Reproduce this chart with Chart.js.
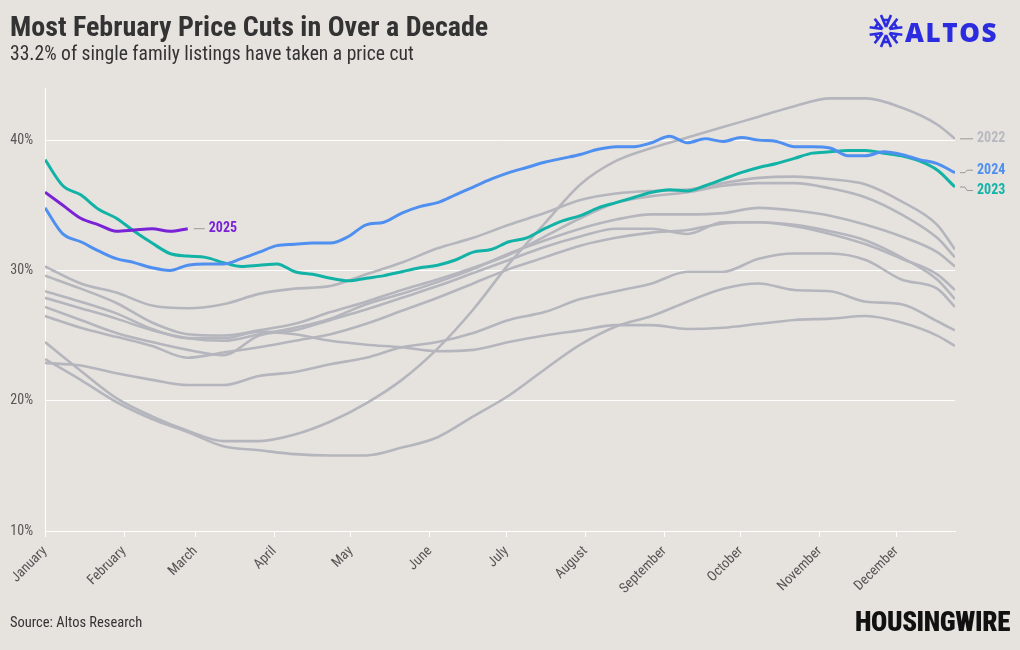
<!DOCTYPE html>
<html>
<head>
<meta charset="utf-8">
<script src="https://cdn.jsdelivr.net/npm/chart.js@4.4.1/dist/chart.umd.min.js"></script>
<style>
  html, body { margin: 0; padding: 0; background: #e6e3df; }
  #wrap { position: relative; width: 1020px; height: 650px; overflow: hidden; background: #e6e3df;
          font-family: 'Roboto Condensed', 'Liberation Sans Narrow', 'DejaVu Sans Condensed', Roboto, sans-serif; }
  #title { position: absolute; left: 10px; top: 10px; font-size: 28px; font-weight: bold; color: #333; white-space: nowrap; }
  #subtitle { position: absolute; left: 10px; top: 42px; font-size: 19.6px; color: #333; white-space: nowrap; }
  #source { position: absolute; left: 10px; top: 614px; font-size: 14.5px; color: #333; white-space: nowrap; }
  #hw { position: absolute; left: 855px; top: 606px; font-size: 27px; font-weight: 900; color: #111; letter-spacing: -0.4px; white-space: nowrap; }
  #altos { position: absolute; left: 868px; top: 13px; }
  #altosText { position: absolute; left: 905px; top: 14px; font-family: 'Open Sans', 'DejaVu Sans', sans-serif; font-size: 26px; font-weight: 800; color: #2b2be0; letter-spacing: 1.6px; }
  canvas { position: absolute; left: 0; top: 0; }
</style>
</head>
<body>
<div id="wrap">
  <canvas id="chart" width="1020" height="650"></canvas>
  <div id="title">Most February Price Cuts in Over a Decade</div>
  <div id="subtitle">33.2% of single family listings have taken a price cut</div>
  <div id="source">Source: Altos Research</div>
  <div id="hw">HOUSINGWIRE</div>
  <svg id="altos" width="36" height="36" viewBox="-18 -18 36 36">
    <g stroke="#2b2be0" stroke-width="2.6" fill="none" stroke-linejoin="round">
      <g transform="rotate(0)"><path d="M0,-4 L-5,-16 M0,-4 L5,-16 M-3,-11 L3,-11"/></g>
      <g transform="rotate(60)"><path d="M0,-4 L-5,-16 M0,-4 L5,-16 M-3,-11 L3,-11"/></g>
      <g transform="rotate(120)"><path d="M0,-4 L-5,-16 M0,-4 L5,-16 M-3,-11 L3,-11"/></g>
      <g transform="rotate(180)"><path d="M0,-4 L-5,-16 M0,-4 L5,-16 M-3,-11 L3,-11"/></g>
      <g transform="rotate(240)"><path d="M0,-4 L-5,-16 M0,-4 L5,-16 M-3,-11 L3,-11"/></g>
      <g transform="rotate(300)"><path d="M0,-4 L-5,-16 M0,-4 L5,-16 M-3,-11 L3,-11"/></g>
    </g>
  </svg>
  <div id="altosText">ALTOS</div>
</div>
<script>
// ---- Data (share of single family listings with a price cut, %) ----
// grey (earlier) years: sampled every two weeks plus the final week
const weeks = [0,2,4,6,8,10,12,14,16,18,20,22,24,26,28,30,32,34,36,38,40,42,44,46,48,50,51];
// highlighted years: weekly
const weeklyX = [0,1,2,3,4,5,6,7,8,9,10,11,12,13,14,15,16,17,18,19,20,21,22,23,24,25,26,27,28,29,30,31,32,33,34,35,36,37,38,39,40,41,42,43,44,45,46,47,48,49,50,51];

const monthNames = ['January','February','March','April','May','June','July','August','September','October','November','December'];
const monthStartDays = [0,31,59,90,120,151,181,212,243,273,304,334];
const yTickValues = [10,20,30,40];

const pastA = [30.3,29.0,28.3,27.3,27.1,27.4,28.2,28.6,28.8,29.7,30.6,31.7,32.5,33.5,34.4,35.4,35.9,36.1,36.2,36.7,37.1,37.2,37.0,36.6,35.3,33.5,31.6];
const pastB = [29.6,28.6,27.5,26.0,25.1,25.0,25.4,25.9,26.8,27.6,28.5,29.3,30.2,31.2,32.6,34.0,35.2,35.7,36.0,36.5,36.7,36.7,36.3,35.6,34.3,32.5,31.0];
const pastC = [28.4,27.6,26.7,25.5,24.8,24.8,25.3,25.1,24.6,24.3,24.1,23.8,23.9,24.5,25.0,25.4,25.8,25.8,25.5,25.6,25.9,26.2,26.3,26.5,26.0,25.0,24.2];
const pastD = [27.9,27.1,26.3,25.4,24.8,24.6,25.1,25.6,26.3,27.4,28.2,29.1,30.1,31.3,32.3,33.2,33.9,34.3,34.3,34.4,34.8,34.6,34.2,33.5,32.6,31.4,30.3];
const pastE = [27.2,26.2,25.2,24.5,23.9,23.5,25.0,25.4,26.2,27.0,27.9,28.8,29.8,30.8,31.8,32.6,33.2,33.2,32.8,33.7,33.7,33.4,32.8,32.0,30.9,29.7,28.5];
const pastF = [26.5,25.6,24.9,24.2,23.3,23.7,24.1,24.6,25.1,25.9,26.9,27.9,29.0,30.1,31.0,31.9,32.5,32.9,33.1,33.6,33.7,33.5,33.0,32.3,31.0,29.3,27.8];
const pastG = [22.9,22.7,22.1,21.6,21.2,21.2,21.9,22.2,22.8,23.3,24.1,24.5,25.2,26.2,26.8,27.8,28.4,29.0,29.9,29.9,30.9,31.3,31.3,30.8,29.3,28.6,27.2];
const pastH = [23.2,21.6,19.9,18.6,17.6,16.5,16.2,15.9,15.8,15.8,16.4,17.2,18.8,20.4,22.4,24.3,25.7,26.5,27.6,28.6,29.0,28.5,28.4,27.6,27.4,26.1,25.4];
const y2022 = [24.5,22.3,20.2,18.8,17.7,16.9,16.9,17.4,18.4,19.8,21.6,24.0,27.0,30.5,33.6,36.6,38.4,39.4,40.2,41.0,41.8,42.6,43.2,43.2,42.5,41.2,40.1];

const y2023 = [38.5,36.5,35.8,34.7,34.0,33.0,32.1,31.3,31.1,31.0,30.6,30.3,30.4,30.5,29.9,29.7,29.4,29.2,29.4,29.6,29.9,30.2,30.4,30.8,31.4,31.6,
               32.2,32.5,33.2,33.8,34.2,34.8,35.2,35.6,36.0,36.2,36.1,36.5,37.0,37.5,37.9,38.2,38.6,39.0,39.1,39.2,39.2,39.0,38.8,38.4,37.7,36.4];
const y2024 = [34.8,32.8,32.2,31.5,30.9,30.6,30.2,30.0,30.4,30.5,30.5,30.9,31.4,31.9,32.0,32.1,32.1,32.6,33.5,33.7,34.4,34.9,35.2,35.8,36.4,37.0,
               37.5,37.9,38.3,38.6,38.9,39.3,39.5,39.5,39.8,40.3,39.8,40.1,39.9,40.2,40.0,39.9,39.5,39.5,39.4,38.8,38.8,39.1,38.9,38.5,38.2,37.5];
const y2025 = [36.0,35.0,34.0,33.5,33.0,33.1,33.2,33.0,33.2];

// ---- Styling ----
const GREY = '#b5b6bd';
const BLUE = '#4f8ff0';
const TEAL = '#12b3a6';
const PURPLE = '#7a22d6';
const FONT = "'Roboto Condensed', 'Liberation Sans Narrow', 'DejaVu Sans Condensed', Roboto, sans-serif";

function toPoints(xs, vals) { return vals.map((v, i) => ({ x: xs[i] * 7, y: v })); }

function ds(label, xs, vals, color, width, order) {
  return { label, data: toPoints(xs, vals), borderColor: color, backgroundColor: color,
           borderWidth: width, pointRadius: 0, pointHoverRadius: 0, fill: false,
           cubicInterpolationMode: 'monotone', order };
}

const greySeries = [pastA, pastB, pastC, pastD, pastE, pastF, pastG, pastH];
const datasets = [
  ds('2025', weeklyX, y2025, PURPLE, 3, 0),
  ds('2024', weeklyX, y2024, BLUE, 3, 1),
  ds('2023', weeklyX, y2023, TEAL, 3, 2),
  ds('2022', weeks, y2022, GREY, 2.6, 3),
  ...greySeries.map((s, i) => ds('past' + i, weeks, s, GREY, 2.6, 4))
];

const endLabels = {
  id: 'endLabels',
  afterDatasetsDraw(chart) {
    const ctx = chart.ctx;
    ctx.save();
    ctx.font = 'bold 14px ' + FONT;
    ctx.textBaseline = 'middle';
    ctx.textAlign = 'left';
    const find = (label) => chart.data.datasets.findIndex(d => d.label === label);
    const lastPt = (label) => { const m = chart.getDatasetMeta(find(label)); return m.data[m.data.length - 1]; };

    const items = [
      { label: '2022', color: '#b8b9c0', dy: 0 },
      { label: '2024', color: BLUE, dy: -2.5 },
      { label: '2023', color: TEAL, dy: 3.5 }
    ];
    ctx.strokeStyle = '#9a9a9a';
    ctx.lineWidth = 1;
    items.forEach(it => {
      const p = lastPt(it.label);
      const ly = p.y + it.dy;
      ctx.beginPath();
      ctx.moveTo(p.x + 5, p.y);
      ctx.lineTo(p.x + 10, p.y);
      ctx.lineTo(p.x + 12, ly);
      ctx.lineTo(p.x + 18, ly);
      ctx.stroke();
      ctx.fillStyle = it.color;
      ctx.fillText(it.label, p.x + 22, ly);
    });
    const p25 = lastPt('2025');
    ctx.beginPath();
    ctx.moveTo(p25.x + 6, p25.y);
    ctx.lineTo(p25.x + 17, p25.y);
    ctx.stroke();
    ctx.fillStyle = PURPLE;
    ctx.fillText('2025', p25.x + 21, p25.y);
    ctx.restore();
  }
};

new Chart(document.getElementById('chart'), {
  type: 'line',
  data: { datasets },
  plugins: [endLabels],
  options: {
    responsive: false,
    devicePixelRatio: 1,
    animation: false,
    layout: { padding: { left: 10, right: 65, top: 88, bottom: 49 } },
    plugins: { legend: { display: false }, tooltip: { enabled: false }, title: { display: false } },
    scales: {
      x: {
        type: 'linear', min: 0, max: 357,
        afterBuildTicks: (axis) => { axis.ticks = monthStartDays.map(v => ({ value: v })); },
        afterFit: (axis) => { axis.height = 70; },
        ticks: {
          autoSkip: false, minRotation: 45, maxRotation: 45, padding: 6,
          color: '#555', font: { family: FONT, size: 14 },
          callback: (v) => monthNames[monthStartDays.indexOf(v)]
        },
        grid: { display: true, drawOnChartArea: false, drawTicks: true, tickLength: 6, color: '#ffffff', lineWidth: 1 },
        border: { display: true, color: '#ffffff', width: 1 }
      },
      y: {
        type: 'linear', min: 10, max: 44,
        afterBuildTicks: (axis) => { axis.ticks = yTickValues.map(v => ({ value: v })); },
        afterFit: (axis) => { axis.width = 35; },
        ticks: { color: '#555', font: { family: FONT, size: 14 }, padding: 12, callback: (v) => v + '%' },
        grid: { color: 'rgba(255,255,255,0.95)', lineWidth: 1, drawTicks: false },
        border: { display: true, color: '#ffffff', width: 1 }
      }
    }
  }
});
</script>
</body>
</html>
